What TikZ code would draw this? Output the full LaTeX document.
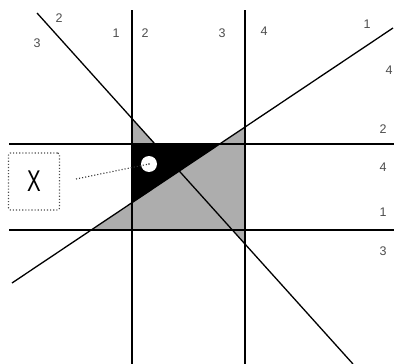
\documentclass[tikz,border=0pt]{standalone}
\usepackage{fontspec}
\setmainfont{Liberation Sans}
\usepackage{graphicx}
\definecolor{areagray}{gray}{0.68}
\definecolor{labelc}{gray}{0.3}
\begin{document}
\begin{tikzpicture}[x=1pt,y=-1pt,
  mainline/.style={line width=1.3pt,black},
  lbl/.style={font=\fontsize{12.5}{14}\selectfont,text=labelc,inner sep=0pt},
  xbox/.style={draw=black!70,dotted,line width=1.1pt,rounded corners=2pt,minimum width=51pt,minimum height=57pt,inner sep=0pt},
  pointer/.style={black!80,dotted,line width=1.1pt}]
\useasboundingbox (0,0) rectangle (394,364);
% line end points
\coordinate (v1t) at (132,10);  \coordinate (v1b) at (132,364);
\coordinate (v2t) at (245,10);  \coordinate (v2b) at (245,364);
\coordinate (h1l) at (9,144);   \coordinate (h1r) at (394,144);
\coordinate (h2l) at (9,230);   \coordinate (h2r) at (394,230);
\coordinate (d1t) at (37,13);   \coordinate (d1b) at (353,364);
\coordinate (d2b) at (12,283);  \coordinate (d2t) at (393,28);
% intersections
\coordinate (A) at (intersection of d2b--d2t and h2l--h2r);
\coordinate (B) at (intersection of d2b--d2t and v1t--v1b);
\coordinate (C) at (intersection of d2b--d2t and h1l--h1r);
\coordinate (D) at (intersection of d2b--d2t and v2t--v2b);
\coordinate (E) at (intersection of d1t--d1b and v2t--v2b);
\coordinate (F) at (intersection of d1t--d1b and h2l--h2r);
\coordinate (G) at (intersection of d1t--d1b and v1t--v1b);
\coordinate (H) at (intersection of d1t--d1b and h1l--h1r);
\coordinate (I) at (intersection of v1t--v1b and h1l--h1r);
% shading
\fill[areagray] (A) -- (D) -- (E) -- (F) -- cycle;
\fill[areagray] (G) -- (I) -- (H) -- cycle;
\fill[black] (I) -- (C) -- (B) -- cycle;
% lines
\draw[mainline] (v1t) -- (v1b);
\draw[mainline] (v2t) -- (v2b);
\draw[mainline] (h1l) -- (h1r);
\draw[mainline] (h2l) -- (h2r);
\draw[mainline] (d1t) -- (d1b);
\draw[mainline] (d2b) -- (d2t);
% circle and box
\node[circle,fill=white,minimum size=16pt,inner sep=0pt] (ring) at (149,164) {};
\node[xbox] (xb) at (34,181.5) {\fontsize{30}{32}\selectfont\scalebox{0.68}[1]{X}};
\draw[pointer] (76,179) -- (ring.center);
\fill[black!80] (ring.center) circle (0.8pt);
% labels
\node[lbl] (l1) at (59,18) {2};
\node[lbl] (l2) at (37,43) {3};
\node[lbl] (l3) at (116,33) {1};
\node[lbl] (l4) at (145,33) {2};
\node[lbl] (l5) at (222,33) {3};
\node[lbl] (l6) at (264,31) {4};
\node[lbl] (l7) at (367,24) {1};
\node[lbl] (l8) at (389,70) {4};
\node[lbl] (l9) at (383,129) {2};
\node[lbl] (l10) at (383,167) {4};
\node[lbl] (l11) at (383,212) {1};
\node[lbl] (l12) at (383,251) {3};
\end{tikzpicture}
\end{document}
